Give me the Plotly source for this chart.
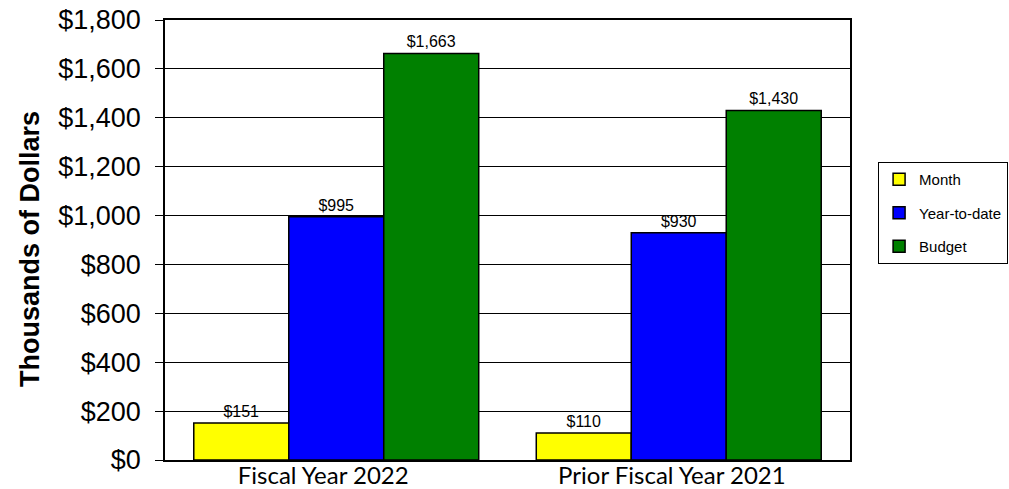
import plotly.graph_objects as go

categories = ["Fiscal Year 2022", "Prior Fiscal Year 2021"]
series_names = ["Month", "Year-to-date", "Budget"]
month = [151, 110]
ytd = [995, 930]
budget = [1663, 1430]
colors = ["#FFFF00", "#0000FF", "#008000"]
# small leftward nudge of the category labels, as in the reference
label_nudge = [-0.038, -0.02]

fig = go.Figure()
for i, (name, vals) in enumerate(zip(series_names, [month, ytd, budget])):
    fig.add_trace(go.Bar(
        x=categories, y=vals, name=name,
        marker=dict(color=colors[i], line=dict(color="black", width=1.5)),
        text=[f"${v:,}" for v in vals], textposition="outside",
        textfont=dict(family="Arial", size=16, color="black"),
        cliponaxis=False, legendgroup=name,
    ))

fig.add_annotation(
    text="<b>Thousands of Dollars</b>", textangle=-90,
    xref="paper", yref="paper", x=(30 - 165) / 685, y=(460 - 249) / 440,
    xanchor="center", yanchor="middle", showarrow=False,
    font=dict(family="Arial", size=27, color="black"),
)

fig.update_layout(
    width=1009, height=489,
    margin=dict(l=165, r=159, t=20, b=29, autoexpand=False),
    paper_bgcolor="white", plot_bgcolor="white",
    barmode="group", bargap=0.168, bargroupgap=0,
    font=dict(family="Arial", color="black"),
    showlegend=True,
    legend=dict(
        x=1.041, y=0.677, xanchor="left", yanchor="top",
        bordercolor="black", borderwidth=1,
        font=dict(family="Arial", size=15, color="black"),
        traceorder="grouped", tracegroupgap=11,
        itemwidth=30,
    ),
    xaxis=dict(
        showline=True, linecolor="black", linewidth=1.5, mirror=True,
        tickfont=dict(family="Lato", size=24, color="black"),
        ticks="", range=[-0.5, 1.5], automargin=False,
        tickmode="array",
        tickvals=[i + d for i, d in enumerate(label_nudge)],
        ticktext=categories,
        ticklabelstandoff=-7,
    ),
    yaxis=dict(
        range=[0, 1800], dtick=200, tickprefix="$", tickformat=",",
        showgrid=True, gridcolor="black", gridwidth=1,
        showline=True, linecolor="black", linewidth=1.5, mirror=True,
        ticks="outside", ticklen=8, tickcolor="black",
        tickfont=dict(family="Arial", size=27, color="black"),
        ticklabelstandoff=9,
        zeroline=False, automargin=False,
    ),
)

fig.write_html("out.html")
